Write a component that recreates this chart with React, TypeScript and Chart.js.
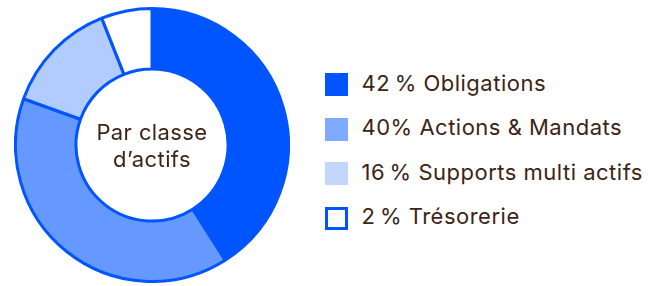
import React, { useEffect, useRef } from "react";
import { Chart, registerables } from "chart.js";

Chart.register(...registerables);

const categories = ["Obligations", "Actions & Mandats", "Supports multi actifs", "Trésorerie"];
const values = [41, 39.5, 13.5, 6];
const legendLabels = [
  "42\u202F% Obligations",
  "40% Actions & Mandats",
  "16\u202F% Supports multi actifs",
  "2\u202F% Trésorerie",
];
const centerLines = ["Par classe", "d’actifs"];

const BLUE = "#0055ff";
const sliceColors = [BLUE, "#6699ff", "#b3ccff", "#ffffff"];
const legendColors = [BLUE, "#80aaff", "#c2d6ff", "#ffffff"];
const TEXT = "#3d2416";
const FONT = "Inter, 'Noto Sans', sans-serif";

export default function App() {
  const ref = useRef<HTMLCanvasElement | null>(null);

  useEffect(() => {
    if (!ref.current) return;
    const chart = new Chart(ref.current, {
      type: "doughnut",
      data: {
        labels: categories,
        datasets: [
          {
            data: values,
            backgroundColor: sliceColors,
            borderColor: BLUE,
            borderWidth: 3,
            hoverOffset: 0,
            offset: 0,
          },
        ],
      },
      options: {
        animation: false,
        responsive: false,
        maintainAspectRatio: false,
        cutout: 76,
        layout: { padding: 0 },
        events: [],
        plugins: {
          legend: { display: false },
          tooltip: { enabled: false },
        },
      },
    });
    return () => chart.destroy();
  }, []);

  return (
    <div
      style={{
        position: "fixed",
        left: 0,
        top: 0,
        width: 655,
        height: 286,
        background: "#ffffff",
        overflow: "hidden",
        fontFamily: FONT,
        color: TEXT,
      }}
    >
      <canvas
        ref={ref}
        width={276}
        height={276}
        style={{ position: "absolute", left: 14, top: 7, width: 276, height: 276 }}
      />
      <div
        style={{
          position: "absolute",
          left: 0,
          width: 304,
          top: 119.4,
          textAlign: "center",
          fontSize: 22,
          lineHeight: "26.6px",
          letterSpacing: 0.4,
        }}
      >
        {centerLines.map((l, i) => (
          <div key={i}>{l}</div>
        ))}
      </div>
      {legendLabels.map((label, i) => (
        <React.Fragment key={i}>
          <div
            style={{
              position: "absolute",
              left: 325,
              top: 73 + i * 44.5,
              width: 23,
              height: 23,
              boxSizing: "border-box",
              background: legendColors[i],
              border: i === 3 ? `3px solid ${BLUE}` : "none",
            }}
          />
          <div
            style={{
              position: "absolute",
              left: 361.5,
              top: 69.7 + i * 44.5,
              fontSize: 22,
              letterSpacing: 0.5,
              whiteSpace: "nowrap",
            }}
          >
            {label}
          </div>
        </React.Fragment>
      ))}
    </div>
  );
}
